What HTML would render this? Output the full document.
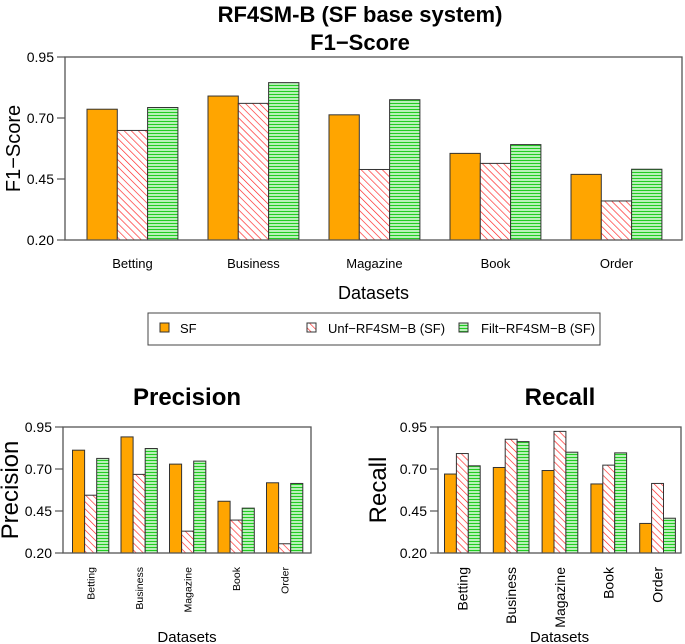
<!DOCTYPE html>
<html><head><meta charset="utf-8"><style>
body{margin:0;background:#fff;}
svg{display:block;font-family:"Liberation Sans",Arial,sans-serif;}
</style></head><body>
<svg id="c" width="685" height="644" viewBox="0 0 685 644">
<defs>
<pattern id="hatchRed" patternUnits="userSpaceOnUse" width="5" height="5" patternTransform="rotate(-45)">
<rect width="5" height="5" fill="#fff"/><line x1="0" y1="0" x2="0" y2="5" stroke="#ff2020" stroke-width="1.3"/>
</pattern>
<pattern id="hatchGreen" patternUnits="userSpaceOnUse" width="4" height="3">
<rect width="4" height="3" fill="#c8f5c8"/><line x1="0" y1="1.5" x2="4" y2="1.5" stroke="#22cc22" stroke-width="1.2"/>
</pattern>
</defs>
<text x="360" y="22" font-size="22" font-weight="bold" text-anchor="middle">RF4SM-B (SF base system)</text>
<text x="360" y="50" font-size="22" font-weight="bold" text-anchor="middle">F1−Score</text>
<text x="187" y="405" font-size="24" font-weight="bold" text-anchor="middle">Precision</text>
<text x="560" y="405" font-size="24" font-weight="bold" text-anchor="middle">Recall</text>
<g id="legend">
<rect x="148" y="313" width="452" height="32" fill="#fff" stroke="#444"/>
<rect x="160" y="323" width="9" height="9" fill="#ffa500" stroke="#333"/>
<text x="180" y="333" font-size="13">SF</text>
<rect x="307" y="323" width="9" height="9" fill="url(#hatchRed)" stroke="#333"/>
<text x="328" y="333" font-size="13">Unf−RF4SM−B (SF)</text>
<rect x="459" y="323" width="9" height="9" fill="url(#hatchGreen)" stroke="#333"/>
<text x="481" y="333" font-size="13">Filt−RF4SM−B (SF)</text>
</g>
</svg>
<script>
const categories = ["Betting","Business","Magazine","Book","Order"];
const seriesNames = ["SF","Unf-RF4SM-B (SF)","Filt-RF4SM-B (SF)"];
const f1SF = [0.736,0.790,0.713,0.555,0.469];
const f1Unf = [0.649,0.760,0.489,0.514,0.360];
const f1Filt = [0.743,0.845,0.775,0.591,0.490];
const precSF = [0.812,0.891,0.729,0.508,0.618];
const precUnf = [0.544,0.668,0.330,0.396,0.255];
const precFilt = [0.763,0.822,0.747,0.467,0.614];
const recSF = [0.670,0.709,0.691,0.611,0.376];
const recUnf = [0.792,0.877,0.924,0.723,0.614];
const recFilt = [0.719,0.863,0.800,0.796,0.407];
const yTicks = [0.20,0.45,0.70,0.95];

const svg = document.getElementById('c');
const NS = 'http://www.w3.org/2000/svg';
function mk(tag, attrs, parent){
  const e = document.createElementNS(NS, tag);
  for (const k in attrs) e.setAttribute(k, attrs[k]);
  (parent||svg).appendChild(e);
  return e;
}
const fills = ['#ffa500','url(#hatchRed)','url(#hatchGreen)'];
const sKeys = ['sf','unf','filt'];

function drawChart(o){
  const g = mk('g', {});
  
  
  const yScale = v => o.bottom - (v - 0.20) / 0.75 * (o.bottom - o.top);
  const xGroup = i => o.firstBar + i * o.pitch;
  const series = o.series;
  for (let i = 0; i < categories.length; i++) {
    for (let s = 0; s < series.length; s++) {
      const v = series[s][i];
      const r = mk('rect', {x: xGroup(i) + s*o.bw, y: yScale(v), width: o.bw, height: o.bottom - yScale(v), fill: fills[s], stroke: '#333', 'stroke-width': 1}, g);
      
      
    }
    const cx = xGroup(i) + 1.5*o.bw;
    let t;
    if (o.rotate) {
      t = mk('text', {x: cx + o.labFs*0.35, y: o.bottom + 14, 'font-size': o.labFs, 'text-anchor': 'end', transform: 'rotate(-90 ' + (cx + o.labFs*0.35) + ' ' + (o.bottom + 14) + ')'}, g);
    } else {
      t = mk('text', {x: cx, y: o.bottom + 28, 'font-size': o.labFs, 'text-anchor': 'middle'}, g);
    }
    t.textContent = categories[i];
    
    
  }
  const box = mk('rect', {x: o.left, y: o.top, width: o.right - o.left, height: o.bottom - o.top, fill: 'none', stroke: '#555', 'stroke-width': 1.3}, g);
  
  
  yTicks.forEach(v => {
    const y = yScale(v);
    mk('line', {x1: o.left - 8, x2: o.left, y1: y, y2: y, stroke: '#555', 'stroke-width': 1.2}, g);
    const t = mk('text', {x: o.left - 11, y: y + 5, 'font-size': 14, 'text-anchor': 'end'}, g);
    t.textContent = v.toFixed(2);
    
    
  });
  const yt = mk('text', {x: o.ylabX, y: (o.top + o.bottom)/2, 'font-size': o.ylabFs, 'text-anchor': 'middle', transform: 'rotate(-90 ' + o.ylabX + ' ' + ((o.top + o.bottom)/2) + ')'}, g);
  yt.textContent = o.ylab;
  
  
  const xt = mk('text', {x: (o.left + o.right)/2, y: o.xlabY, 'font-size': o.xlabFs, 'text-anchor': 'middle'}, g);
  xt.textContent = 'Datasets';
  
  
}

drawChart({name:'f1-chart', series:[f1SF,f1Unf,f1Filt], left:65, right:682, top:57, bottom:240, firstBar:87, pitch:121, bw:30.3, labFs:13, rotate:false, ylab:'F1−Score', ylabX:20, ylabFs:20, xlabY:299, xlabFs:18});
drawChart({name:'precision-chart', series:[precSF,precUnf,precFilt], left:63, right:311, top:427, bottom:553, firstBar:72.5, pitch:48.5, bw:12.1, labFs:10.5, rotate:true, ylab:'Precision', ylabX:18, ylabFs:24, xlabY:642, xlabFs:15});
drawChart({name:'recall-chart', series:[recSF,recUnf,recFilt], left:438, right:681, top:427, bottom:553, firstBar:444.5, pitch:48.8, bw:11.9, labFs:14, rotate:true, ylab:'Recall', ylabX:386, ylabFs:24, xlabY:642, xlabFs:15});
</script>
</body></html>
